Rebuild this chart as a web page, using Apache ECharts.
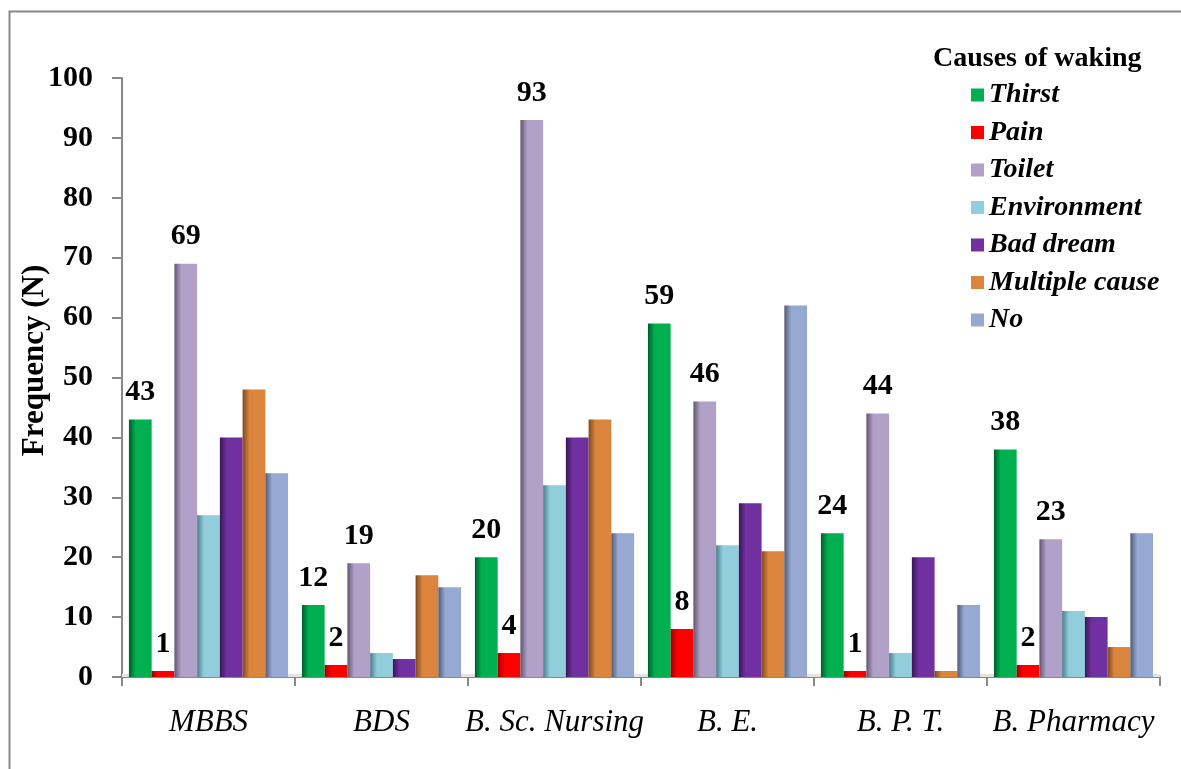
<!DOCTYPE html>
<html>
<head>
<meta charset="utf-8">
<script src="https://cdn.jsdelivr.net/npm/echarts@6/dist/echarts.min.js"></script>
<style>
  html, body { margin: 0; padding: 0; background: #fff; }
  #chart { width: 1181px; height: 769px; }
</style>
</head>
<body>
<div id="chart"></div>
<script>
// Programmes surveyed
const categories = ['MBBS', 'BDS', 'B. Sc. Nursing', 'B. E.', 'B. P. T.', 'B. Pharmacy'];

// Frequency of each cause of waking per programme
const thirst        = [43, 12, 20, 59, 24, 38];
const pain          = [1, 2, 4, 8, 1, 2];
const toilet        = [69, 19, 93, 46, 44, 23];
const environment   = [27, 4, 32, 22, 4, 11];
const badDream      = [40, 3, 40, 29, 20, 10];
const multipleCause = [48, 17, 43, 21, 1, 5];
const noWaking      = [34, 15, 24, 62, 12, 24];

const seriesNames = ['Thirst', 'Pain', 'Toilet', 'Environment', 'Bad dream', 'Multiple cause', 'No'];
const seriesData = [thirst, pain, toilet, environment, badDream, multipleCause, noWaking];
const labelled = [true, true, true, false, false, false, false];

// [main colour, shaded edge colour]
const palette = [
  ['#00B050', '#005E2A'],
  ['#FF0000', '#A00000'],
  ['#B1A0C7', '#5F5670'],
  ['#92CDDC', '#4A7F8C'],
  ['#7030A0', '#3A1656'],
  ['#DB843D', '#7E4A1E'],
  ['#95A9D3', '#505C74']
];

const serif = '"Liberation Serif", "Times New Roman", serif';

function shaded(c) {
  return new echarts.graphic.LinearGradient(0, 0, 1, 0, [
    { offset: 0, color: c[1] },
    { offset: 0.3, color: c[0] },
    { offset: 0.85, color: c[0] },
    { offset: 1, color: c[0] }
  ]);
}

const series = seriesNames.map((name, i) => ({
  name: name,
  type: 'bar',
  data: seriesData[i],
  barGap: '0%',
  barCategoryGap: '8%',
  itemStyle: { color: shaded(palette[i]) },
  label: {
    show: labelled[i],
    position: 'top',
    distance: 12,
    fontFamily: serif,
    fontWeight: 'bold',
    fontSize: 30,
    color: '#000'
  },
  emphasis: { disabled: true }
}));

// light floor strip along the baseline
series[0].markArea = {
  silent: true,
  itemStyle: { color: '#E3E3E3' },
  data: [[{ yAxis: 0 }, { yAxis: 0.5 }]]
};

const chart = echarts.init(document.getElementById('chart'), null, { renderer: 'canvas' });
chart.setOption({
  animation: false,
  backgroundColor: '#fff',
  color: palette.map(c => c[0]),
  title: {
    text: 'Causes of waking',
    left: 928,
    top: 40,
    textStyle: { fontFamily: serif, fontWeight: 'bold', fontSize: 28, color: '#000' }
  },
  legend: {
    orient: 'vertical',
    left: 966,
    top: 76,
    itemWidth: 13,
    itemHeight: 13,
    itemGap: 9.5,
    icon: 'rect',
    textStyle: { fontFamily: serif, fontStyle: 'italic', fontWeight: 'bold', fontSize: 28, color: '#000', lineHeight: 25 },
    data: seriesNames.map((n, i) => ({ name: n, itemStyle: { color: palette[i][0] } }))
  },
  grid: { left: 122, right: 21, top: 78, bottom: 92, containLabel: false },
  xAxis: {
    type: 'category',
    data: categories,
    boundaryGap: true,
    axisLine: { lineStyle: { color: '#888', width: 2 } },
    axisTick: { show: true, alignWithLabel: false, length: 9, lineStyle: { color: '#888', width: 2 } },
    axisLabel: { fontFamily: serif, fontStyle: 'italic', fontSize: 31, color: '#000', margin: 30, interval: 0 }
  },
  yAxis: {
    type: 'value',
    min: 0,
    max: 100,
    interval: 10,
    name: 'Frequency (N)',
    nameLocation: 'middle',
    nameGap: 72,
    nameMoveOverlap: false,
    nameTextStyle: { fontFamily: serif, fontWeight: 'bold', fontSize: 31, color: '#000', padding: [0, 0, 0, 34] },
    axisLine: { show: true, lineStyle: { color: '#888', width: 2 } },
    axisTick: { show: true, length: 10, lineStyle: { color: '#888', width: 2 } },
    axisLabel: { fontFamily: serif, fontWeight: 'bold', fontSize: 30, color: '#000', margin: 29 },
    splitLine: { show: false }
  },
  graphic: [{
    type: 'rect',
    left: 7,
    top: 9,
    shape: { width: 1200, height: 800 },
    style: { fill: 'none', stroke: '#888', lineWidth: 2 },
    silent: true,
    z: -1
  }],
  series: series
});
</script>
</body>
</html>
